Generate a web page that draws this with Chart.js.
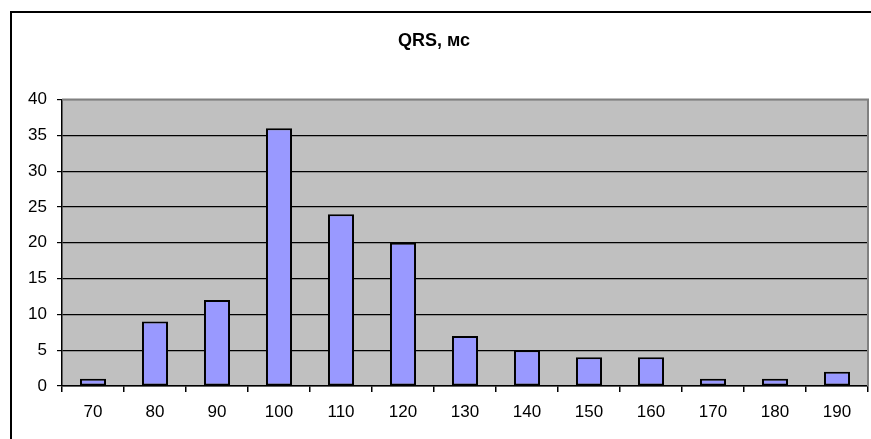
<!DOCTYPE html>
<html>
<head>
<meta charset="utf-8">
<script src="https://cdn.jsdelivr.net/npm/chart.js@4.4.0/dist/chart.umd.min.js"></script>
<style>
    html, body { margin: 0; padding: 0; background: #fff; overflow: hidden; }
    #wrap { position: relative; width: 871px; height: 439px; overflow: hidden; }
    #frame { position: absolute; left: 10px; top: 11px; width: 900px; height: 500px; border: 2px solid #000; box-sizing: border-box; }
    canvas { position: absolute; left: 0; top: 0; }
</style>
</head>
<body>
<div id="wrap">
    <div id="frame"></div>
    <canvas id="qrs" width="871" height="439"></canvas>
</div>
<script>
// 데이터
const categories = ['70', '80', '90', '100', '110', '120', '130', '140', '150', '160', '170', '180', '190'];
const counts = [1, 9, 12, 36, 24, 20, 7, 5, 4, 4, 1, 1, 2];
const yTicks = [0, 5, 10, 15, 20, 25, 30, 35, 40];

// 회색 배경 + 플롯 테두리
const plotBg = {
    id: 'plotBg',
    beforeDraw(chart) {
        const { ctx, chartArea: a } = chart;
        ctx.save();
        ctx.fillStyle = '#C0C0C0';
        ctx.fillRect(a.left, a.top, a.right - a.left, a.bottom - a.top);
        ctx.restore();
    },
    beforeDatasetsDraw(chart) {
        const { ctx, chartArea: a } = chart;
        ctx.save();
        ctx.strokeStyle = '#808080';
        ctx.lineWidth = 2;
        ctx.beginPath();
        ctx.moveTo(a.left, a.top);
        ctx.lineTo(a.right, a.top);
        ctx.lineTo(a.right, a.bottom);
        ctx.stroke();
        ctx.restore();
    }
};

new Chart(document.getElementById('qrs'), {
    type: 'bar',
    data: {
        labels: categories,
        datasets: [{
            data: counts,
            backgroundColor: '#9999FF',
            borderColor: '#000',
            borderWidth: 2,
            borderSkipped: false,
            categoryPercentage: 1,
            barPercentage: 0.42
        }]
    },
    options: {
        responsive: false,
        animation: false,
        layout: { padding: { left: 0, right: 3, top: 0, bottom: 0 } },
        plugins: {
            legend: { display: false },
            tooltip: { enabled: false },
            title: {
                display: true,
                text: 'QRS, мс',
                color: '#000',
                font: { family: 'Liberation Sans, Arial, sans-serif', size: 18, weight: 'bold' },
                padding: { top: 30, bottom: 48 }
            }
        },
        scales: {
            x: {
                offset: true,
                grid: {
                    offset: true,
                    drawOnChartArea: false,
                    drawTicks: true,
                    tickLength: 6,
                    color: '#000',
                    lineWidth: 1.5
                },
                border: { color: '#000', width: 1.5 },
                ticks: {
                    color: '#000',
                    padding: 10,
                    font: { family: 'Liberation Sans, Arial, sans-serif', size: 17 }
                },
                afterFit(scale) { scale.height = 53; }
            },
            y: {
                min: 0,
                max: 40,
                afterBuildTicks(scale) { scale.ticks = yTicks.map(v => ({ value: v })); },
                grid: {
                    color: ctx => (ctx.tick && ctx.tick.value === 40 ? '#808080' : '#000'),
                    tickColor: '#000',
                    lineWidth: 1.2,
                    tickLength: 5
                },
                border: { color: '#000', width: 1.5 },
                ticks: {
                    color: '#000',
                    padding: 10,
                    font: { family: 'Liberation Sans, Arial, sans-serif', size: 17 }
                },
                afterFit(scale) { scale.width = 62; }
            }
        }
    },
    plugins: [plotBg]
});
</script>
</body>
</html>
